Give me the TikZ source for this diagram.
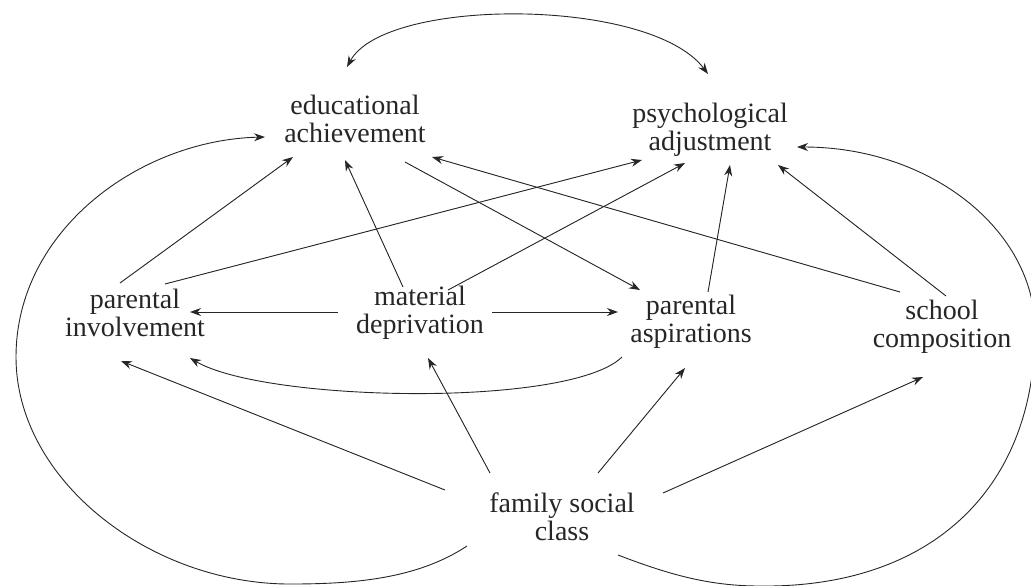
\documentclass[tikz,border=0pt]{standalone}
\usepackage{fontspec}
\setmainfont{Liberation Serif}
\usetikzlibrary{arrows.meta}
\begin{document}
\begin{tikzpicture}[x=0.5pt,y=-0.5pt,
  >={Stealth[length=5.5pt,width=4pt]},
  lbl/.style={align=center,inner sep=0pt,text=black!85,font=\fontsize{14}{14}\selectfont},
  conn/.style={line width=0.45pt,draw=black!85,fill=black!70,->},
]
\useasboundingbox (0,0) rectangle (1031,585);
% nodes
\node[lbl] (ea)  at (355,118.5) {educational\\achievement};
\node[lbl] (ps)  at (710,129.5) {psychological\\adjustment};
\node[lbl] (pi)  at (135,312.5) {parental\\involvement};
\node[lbl] (md)  at (420,312.5) {material\\deprivation};
\node[lbl] (pas) at (691,321.5) {parental\\aspirations};
\node[lbl] (sc)  at (942,327)   {school\\composition};
\node[lbl] (fsc) at (562,516.5) {family social\\class};
% curved connectors
\draw[conn,fill=none,<->] ([shift={(-8,-51.5)}]ea.center) .. controls (385,-3) and (650,-3) .. ([shift={(-2,-55.5)}]ps.center);
\draw[conn,fill=none] ([shift={(-95,29.5)}]fsc.center) .. controls (417,579) and (354,584) .. (290,584)
   .. controls (150,584) and (16,480) .. (16,357)
   .. controls (16,230) and (140,140) .. ([shift={(-90,18.5)}]ea.center);
\draw[conn,fill=none] ([shift={(56,38.5)}]fsc.center) .. controls (670,575) and (710,586) .. (760,586)
   .. controls (930,588) and (1035,490) .. (1035,330)
   .. controls (1035,230) and (930,147) .. ([shift={(87,17.5)}]ps.center);
\draw[conn,fill=none] ([shift={(-69,35.5)}]pas.center) .. controls (570,408) and (265,402) .. ([shift={(55,45.5)}]pi.center);
% straight connectors
\draw[conn] ([shift={(-15,-29.5)}]pi.center) -- ([shift={(-62,38.5)}]ea.center);
\draw[conn] ([shift={(30,-28.5)}]pi.center) -- ([shift={(-68,30.5)}]ps.center);
\draw[conn] ([shift={(-17,-25.5)}]md.center) -- ([shift={(-10,41.5)}]ea.center);
\draw[conn] ([shift={(28,-22.5)}]md.center) -- ([shift={(-25,33.5)}]ps.center);
\draw[conn] ([shift={(50,43.5)}]ea.center) -- ([shift={(-51,-31.5)}]pas.center);
\draw[conn] ([shift={(-42,-35)}]sc.center) -- ([shift={(77,38.5)}]ea.center);
\draw[conn] ([shift={(4,-31)}]sc.center) -- ([shift={(68,35.5)}]ps.center);
\draw[conn] ([shift={(17,-29.5)}]pas.center) -- ([shift={(20,35.5)}]ps.center);
\draw[conn] ([shift={(-82,-0.5)}]md.center) -- ([shift={(55,-0.5)}]pi.center);
\draw[conn] ([shift={(72,-0.5)}]md.center) -- ([shift={(-73,-9.5)}]pas.center);
\draw[conn] ([shift={(-117,-26.5)}]fsc.center) -- ([shift={(-14,48.5)}]pi.center);
\draw[conn] ([shift={(-72,-43.5)}]fsc.center) -- ([shift={(8,45.5)}]md.center);
\draw[conn] ([shift={(36,-43.5)}]fsc.center) -- ([shift={(-6,46.5)}]pas.center);
\draw[conn] ([shift={(101,-23.5)}]fsc.center) -- ([shift={(-19,50)}]sc.center);
\end{tikzpicture}
\end{document}
